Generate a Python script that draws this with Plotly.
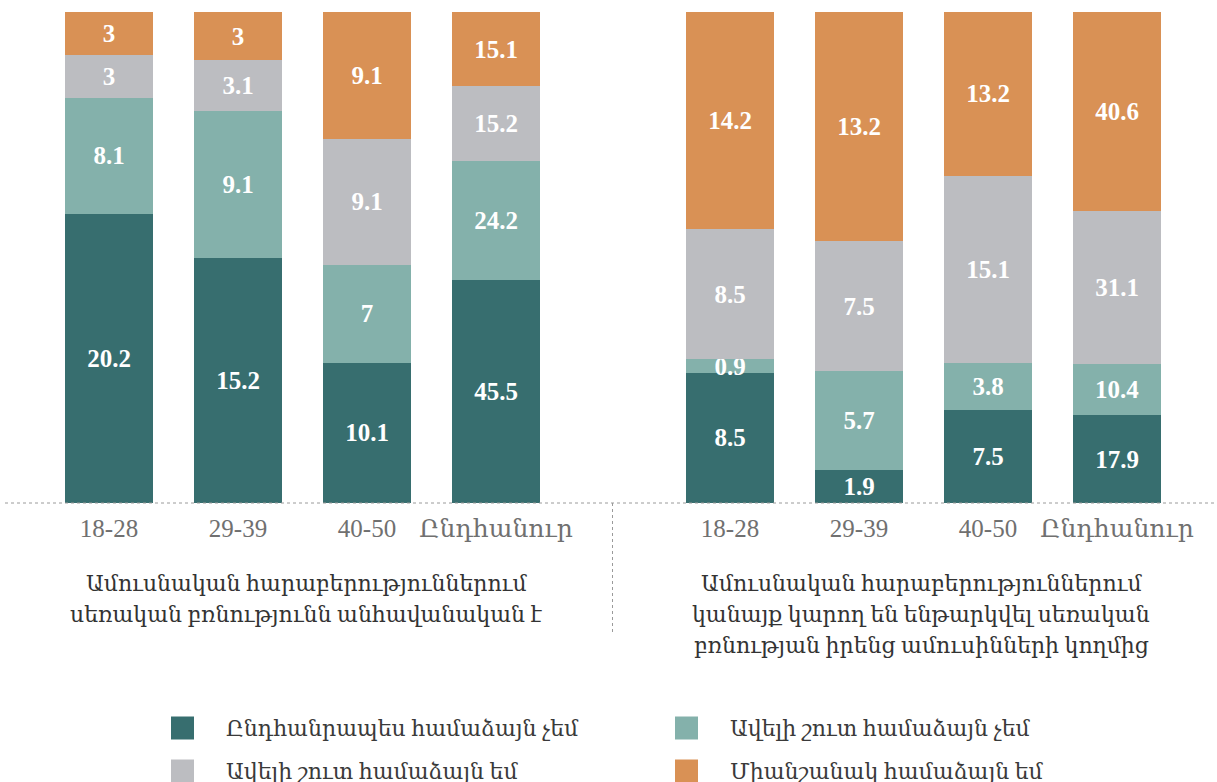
import plotly.graph_objects as go

W, H = 1217, 782

categories = ["18-28", "29-39", "40-50", "Ընդհանուր"]
series_names = [
    "Ընդհանրապես համաձայն չեմ",
    "Ավելի շուտ համաձայն չեմ",
    "Ավելի շուտ համաձայն եմ",
    "Միանշանակ համաձայն եմ",
]
colors = ["#376e6f", "#84b1ab", "#bcbdc1", "#d99155"]

# Left panel: "sexual violence in marriage is unlikely"
left_strongly_disagree = [20.2, 15.2, 10.1, 45.5]
left_rather_disagree = [8.1, 9.1, 7, 24.2]
left_rather_agree = [3, 3.1, 9.1, 15.2]
left_strongly_agree = [3, 3, 9.1, 15.1]

# Right panel: "women may be subjected to sexual violence by their husbands"
right_strongly_disagree = [8.5, 1.9, 7.5, 17.9]
right_rather_disagree = [0.9, 5.7, 3.8, 10.4]
right_rather_agree = [8.5, 7.5, 15.1, 31.1]
right_strongly_agree = [14.2, 13.2, 13.2, 40.6]

left_title_lines = ["Ամուսնական հարաբերություններում",
                    "սեռական բռնությունն անհավանական է"]
right_title_lines = ["Ամուսնական հարաբերություններում",
                     "կանայք կարող են ենթարկվել սեռական",
                     "բռնության իրենց ամուսինների կողմից"]

FONT = "Liberation Serif, 'DejaVu Serif', serif"

left_series = [left_strongly_disagree, left_rather_disagree, left_rather_agree, left_strongly_agree]
right_series = [right_strongly_disagree, right_rather_disagree, right_rather_agree, right_strongly_agree]

fig = go.Figure()
for xa, ya, group in [("x", "y", left_series), ("x2", "y2", right_series)]:
    for i, (name, vals) in enumerate(zip(series_names, group)):
        fig.add_trace(go.Bar(
            x=categories, y=vals, name=name, marker=dict(color=colors[i], line=dict(width=0)),
            text=vals, texttemplate="%{text}", textposition="inside", insidetextanchor="middle",
            textangle=0, constraintext="none",
            textfont=dict(family=FONT, size=25, color="white", weight="bold"),
            xaxis=xa, yaxis=ya, showlegend=False, hoverinfo="skip",
        ))


def px(x):
    return x / W


def py(y):
    return (H - y) / H


ydom = [py(503), py(12)]
axis_common = dict(showgrid=False, zeroline=False, showline=False, ticks="",
                   tickfont=dict(family=FONT, size=25, color="#707070"),
                   range=[-0.5, 3.5], ticklabelstandoff=8, fixedrange=True)

fig.update_layout(
    width=W, height=H,
    margin=dict(l=0, r=0, t=0, b=0, autoexpand=False),
    paper_bgcolor="white", plot_bgcolor="white",
    barmode="stack", barnorm="percent", bargap=0.318,
    font=dict(family=FONT),
    hovermode=False,
    xaxis=dict(domain=[px(44.5), px(560.5)], anchor="y", **axis_common),
    xaxis2=dict(domain=[px(665.5), px(1181.5)], anchor="y2", **axis_common),
    yaxis=dict(domain=ydom, range=[0, 100], visible=False, fixedrange=True),
    yaxis2=dict(domain=ydom, range=[0, 100], visible=False, anchor="x2", fixedrange=True),
    showlegend=False,
)

# dotted baseline and separator
fig.add_shape(type="line", xref="paper", yref="paper", x0=px(5), x1=px(1217), y0=py(503), y1=py(503),
              line=dict(color="#9a9a9a", width=1, dash="dot"))
fig.add_shape(type="line", xref="paper", yref="paper", x0=px(612.5), x1=px(612.5), y0=py(503), y1=py(633),
              line=dict(color="#9a9a9a", width=1, dash="dot"))

# panel titles
title_y = [583, 614, 645]
for cx, lines in [(306, left_title_lines), (921, right_title_lines)]:
    for k, line in enumerate(lines):
        fig.add_annotation(text=line, xref="paper", yref="paper", x=px(cx), y=py(title_y[k]),
                           xanchor="center", yanchor="middle", showarrow=False,
                           font=dict(family=FONT, size=22, color="#333333"))

# legend (2 x 2 grid)
legend_pos = [(182.5, 728), (686.5, 728), (182.5, 771), (686.5, 771)]
for i, name in enumerate(series_names):
    cx, cy = legend_pos[i]
    fig.add_shape(type="rect", xref="paper", yref="paper",
                  x0=px(cx - 11.5), x1=px(cx + 11.5), y0=py(cy + 11.5), y1=py(cy - 11.5),
                  fillcolor=colors[i], line=dict(width=0))
    fig.add_annotation(text=name, xref="paper", yref="paper", x=px(cx + 41), y=py(cy),
                       xanchor="left", yanchor="middle", showarrow=False,
                       font=dict(family=FONT, size=22, color="#3a3a3a"))

fig.write_html("out.html", config={"displayModeBar": False, "staticPlot": True},
               post_script="document.body.style.margin='0px';")
